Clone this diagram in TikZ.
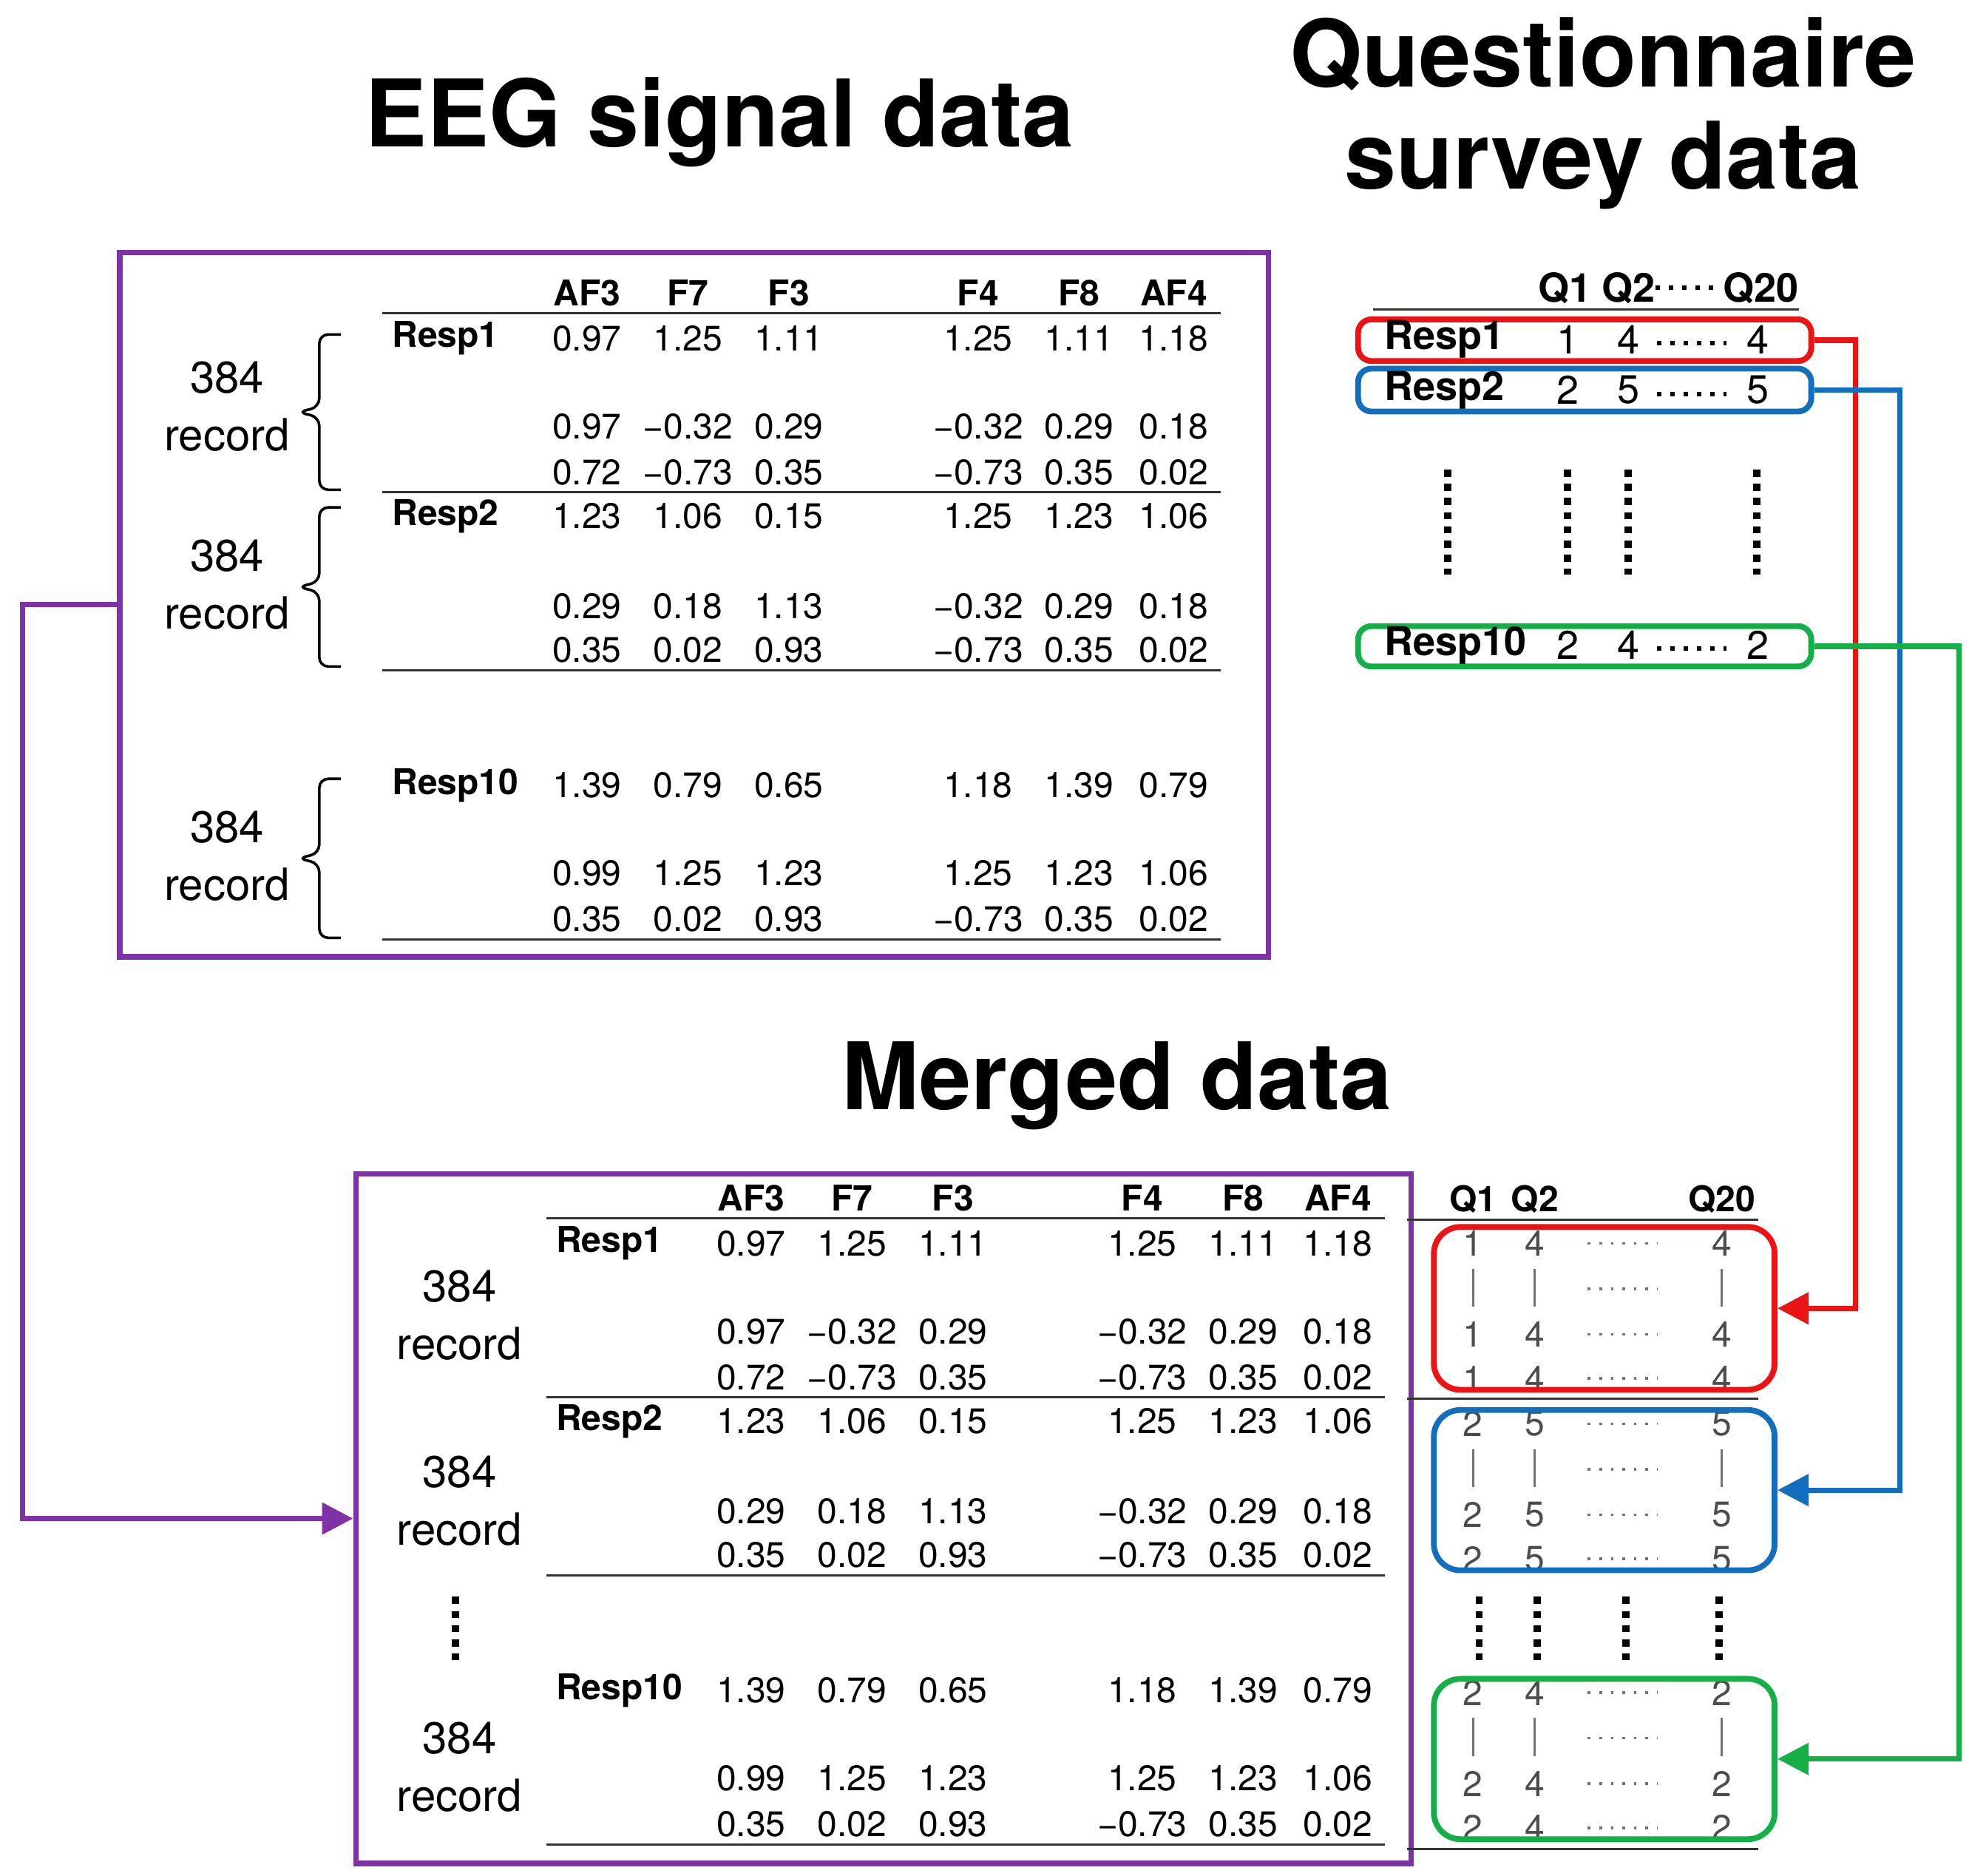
\documentclass[tikz,border=0pt]{standalone}
\usepackage{fontspec}
\setmainfont{TeX Gyre Heros}
\usetikzlibrary{calc, positioning, arrows.meta}

\definecolor{boxpurple}{RGB}{125,50,165}
\definecolor{boxred}{RGB}{235,20,20}
\definecolor{boxblue}{RGB}{20,110,190}
\definecolor{boxgreen}{RGB}{20,175,70}

\tikzset{
  title/.style={font=\fontsize{21}{23}\selectfont\bfseries, align=center},
  cell/.style={font=\fontsize{8}{9}\selectfont, inner sep=0pt},
  head/.style={font=\fontsize{8}{9}\selectfont\bfseries, inner sep=0pt},
  rec/.style={font=\fontsize{10}{13}\selectfont, align=center},
  rule/.style={line width=0.5pt, black!80},
  frame/.style={draw, line width=1.3pt, inner sep=0pt},
  qbox/.style={frame, rounded corners=3pt},
  link/.style={line width=1.2pt, -{Triangle[length=7pt,width=7pt]}},
  vdots/.style={line width=1.6pt, dash pattern=on 1.6pt off 1.6pt},
  bracket/.style={line width=0.6pt, rounded corners=2pt},
}

% EEG table, column AF3 at (0,0) = header line
\newcommand{\eegtable}{%
  \foreach \n/\x in {AF3/0, F7/80, F3/160, F4/310, F8/390, AF4/465}
    \node[head] at (\x,0) {\n};
  \draw[rule] (-162,16) -- (502,16);
  \foreach \r/\y/\a/\b/\c/\d/\e/\f in {
      Resp1/36/0.97/1.25/1.11/1.25/1.11/1.18,
      /106/0.97/−0.32/0.29/−0.32/0.29/0.18,
      /142/0.72/−0.73/0.35/−0.73/0.35/0.02,
      Resp2/177/1.23/1.06/0.15/1.25/1.23/1.06,
      /248/0.29/0.18/1.13/−0.32/0.29/0.18,
      /283/0.35/0.02/0.93/−0.73/0.35/0.02,
      Resp10/390/1.39/0.79/0.65/1.18/1.39/0.79,
      /460/0.99/1.25/1.23/1.25/1.23/1.06,
      /496/0.35/0.02/0.93/−0.73/0.35/0.02}{
    \node[head, anchor=west] at (-155,\y) {\r};
    \foreach \v/\x in {\a/0, \b/80, \c/160, \d/310, \e/390, \f/465}
      \node[cell] at (\x,\y) {\v};
  }
  \foreach \y in {158, 299, 512}
    \draw[rule] (-162,\y) -- (502,\y);
}

\begin{document}
\begin{tikzpicture}[x=0.1mm, y=-0.1mm]
  \useasboundingbox (0,0) rectangle (1560,1486);

  % titles
  \node[title] (teeg) at (570,97) {EEG signal data};
  \node[title] (tq) at (1270,90) {Questionnaire\\survey data};
  \node[title] (tmerge) at (885,860) {Merged data};

  % EEG signal table
  \node[frame, draw=boxpurple, minimum width=91mm, minimum height=55.8mm] (eeg) at (550,479) {};
  \begin{scope}[shift={(465,232)}]
    \eegtable
  \end{scope}
  \foreach \t/\b/\ly in {265/388/322, 402/528/463, 617/743/678} {
    \draw[bracket] (270,\t) -- (253,\t) -- (253,{(\t+\b)/2-4}) -- (236,{(\t+\b)/2})
      -- (253,{(\t+\b)/2+4}) -- (253,\b) -- (270,\b);
    \node[rec] at (180,\ly) {384\\record};
  }

  % questionnaire table
  \node[head, font=\fontsize{9}{10}\selectfont\bfseries] (q1h) at (1240,228) {Q1};
  \node[head, font=\fontsize{9}{10}\selectfont\bfseries] (q2h) at (1290,228) {Q2};
  \node[head, font=\fontsize{9}{10}\selectfont\bfseries] (q20h) at (1395,228) {Q20};
  \draw[line width=1pt, dotted] (q2h.east) -- (q20h.west);
  \draw[rule] (1088,245) -- (1425,245);
  \node[qbox, draw=boxred, minimum width=35.9mm, minimum height=3.3mm] (qa) at (1255.5,269.5) {};
  \node[qbox, draw=boxblue, minimum width=35.9mm, minimum height=3.4mm] (qb) at (1255.5,309) {};
  \node[qbox, draw=boxgreen, minimum width=35.9mm, minimum height=3.2mm] (qc) at (1255.5,512) {};
  \foreach \r/\y/\a/\b/\c in {Resp1/269/1/4/4, Resp2/309/2/5/5, Resp10/511/2/4/2} {
    \node[head, font=\fontsize{9}{10}\selectfont\bfseries, anchor=west] at (1096,\y) {\r};
    \node[cell, font=\fontsize{9}{10}\selectfont] at (1242,\y) {\a};
    \node[cell, font=\fontsize{9}{10}\selectfont] at (1290,\y) {\b};
    \node[cell, font=\fontsize{9}{10}\selectfont] at (1393,\y) {\c};
    \draw[line width=1pt, dotted] (1313,\y+3) -- (1368,\y+3);
  }
  \foreach \x in {1147, 1242, 1290, 1392}
    \draw[vdots] (\x,372) -- (\x,455);

  % merged table
  \node[frame, draw=boxpurple, minimum width=83.6mm, minimum height=54.6mm] (merged) at (700,1203) {};
  \begin{scope}[shift={(595,949)}]
    \eegtable
  \end{scope}
  \foreach \ly in {1042, 1189, 1400}
    \node[rec] at (364,\ly) {384\\record};
  \draw[vdots] (361,1265) -- (361,1315);

  \node[head] (mq1) at (1167,950) {Q1};
  \node[head] (mq2) at (1216,950) {Q2};
  \node[head] (mq20) at (1364,950) {Q20};
  \foreach \y in {966, 1108, 1465}
    \draw[rule] (1115,\y) -- (1393,\y);
  \foreach \a/\b/\c/\t in {1/4/4/985, 2/5/5/1128, 2/4/2/1341} {
    \foreach \y in {\t, \t+72, \t+107} {
      \node[cell, black!70] at (1167,\y) {\a};
      \node[cell, black!70] at (1216,\y) {\b};
      \node[cell, black!70] at (1364,\y) {\c};
    }
    \foreach \x in {1167, 1216, 1364}
      \draw[black!55, line width=0.5pt] (\x,\t+20) -- (\x,\t+50);
    \foreach \y in {\t, \t+36, \t+72, \t+107}
      \draw[black!55, line width=0.6pt, dotted] (1258,\y) -- (1313,\y);
  }
  \node[qbox, draw=boxred, rounded corners=6pt, minimum width=27mm, minimum height=12.9mm] (ma) at (1271,1036.5) {};
  \node[qbox, draw=boxblue, rounded corners=6pt, minimum width=27mm, minimum height=12.7mm] (mb) at (1271,1180.5) {};
  \node[qbox, draw=boxgreen, rounded corners=6pt, minimum width=27mm, minimum height=12.7mm] (mc) at (1271,1393.5) {};
  \foreach \x in {1172, 1218, 1288, 1362}
    \draw[vdots] (\x,1265) -- (\x,1315);

  % links
  \draw[link, boxred] (qa.east) -- ++(33,0) |- (ma.east);
  \draw[link, boxblue] (qb.east) -- ++(68,0) |- (mb.east);
  \draw[link, boxgreen] (qc.east) -- ++(115,0) |- (mc.east);
  \draw[link, boxpurple] (eeg.west) -- ++(-75,0) |- (merged.west);
\end{tikzpicture}
\end{document}
